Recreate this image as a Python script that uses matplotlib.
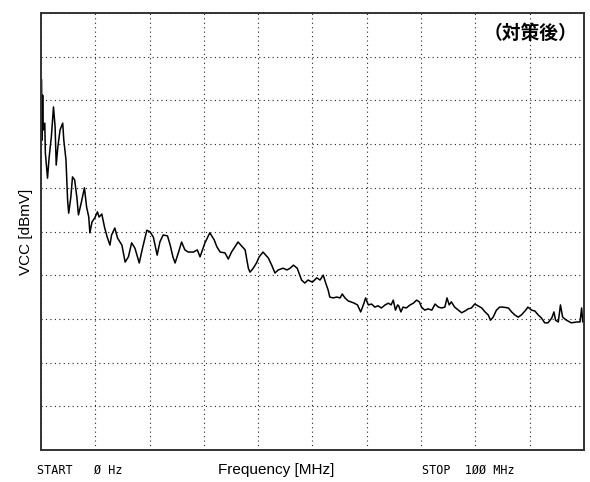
import matplotlib
matplotlib.use("Agg")
import matplotlib.pyplot as plt

# spectrum trace (10 dB/div, 0-100 MHz span)
freq_mhz = [0.1, 0.2, 0.3, 0.4, 0.7, 0.8, 1.2, 1.5, 1.9, 2.3, 2.6, 2.8, 3.1, 3.5, 4.0,
            4.2, 4.6, 4.9, 5.1, 5.5, 5.8, 6.2, 6.6, 6.9, 7.4, 8.0, 8.4, 8.8, 9.0, 9.4,
            9.9, 10.4, 10.7, 11.2, 11.7, 12.2, 12.7, 13.0, 13.6, 14.1, 14.9, 15.5, 16.1, 16.7, 17.3,
            18.1, 18.7, 19.5, 20.1, 20.7, 21.4, 21.9, 22.5, 23.3, 23.8, 24.3, 24.7, 25.3, 25.9, 26.5,
            27.1, 28.1, 28.8, 29.3, 30.2, 31.1, 31.9, 32.4, 33.0, 33.9, 34.5, 35.1, 36.3, 37.6, 38.2,
            38.5, 39.1, 39.7, 40.2, 40.9, 41.9, 42.5, 43.1, 43.7, 44.6, 45.3, 45.9, 46.5, 47.2, 48.0,
            48.6, 49.2, 50.0, 50.8, 51.4, 52.0,
            52.4, 52.9, 53.2, 53.8, 54.5, 55.1, 55.5, 56.0, 56.6, 57.1, 57.7, 58.3, 58.9, 59.5, 59.8,
            60.3, 60.9, 61.5, 62.1, 62.7, 63.4, 64.0, 64.5, 64.9, 65.3, 65.7, 65.9, 66.3, 66.7, 67.3,
            68.0, 68.6, 69.2, 69.7, 70.1, 70.7, 71.3, 72.0, 72.6, 73.2, 73.8, 74.4, 74.8, 75.2, 75.6,
            76.2, 76.9, 77.5, 78.1, 78.7, 79.3, 79.9, 80.5, 81.2, 81.8, 82.4, 82.8, 83.3, 83.9, 84.5,
            85.1, 86.1, 86.7, 87.3, 87.9, 88.5, 89.3, 89.7, 90.4, 91.0, 91.6, 92.2, 92.8, 93.4, 94.1,
            94.5, 94.8, 95.3, 95.7, 96.1, 96.8, 97.7, 98.7, 99.3, 99.6, 99.8, 99.9]
level_dbmv = [84.7, 70.9, 81.2, 73.2, 74.8, 68.0, 62.2, 67.0, 71.6, 78.5, 73.9, 65.2, 69.3, 73.2, 74.8,
              70.9, 66.4, 57.2, 54.2, 57.9, 62.5, 61.8, 57.9, 53.8, 56.5, 60.0, 55.6, 53.3, 49.7, 52.2,
              53.1, 54.5, 53.3, 54.0, 51.0, 48.7, 46.9, 49.2, 50.8, 48.5, 46.9, 43.0, 44.2, 47.4, 46.2,
              42.8, 46.2, 50.3, 49.9, 48.7, 44.6, 47.6, 49.2, 49.0, 46.9, 44.2, 42.8, 45.1, 47.6, 45.8,
              45.3, 45.3, 45.8, 44.2, 47.4, 49.7, 48.1, 46.5, 45.3, 45.1, 43.7, 45.3, 47.6, 45.8, 41.6,
              40.7, 41.6, 42.8, 44.2, 45.3, 43.9, 42.3, 40.5, 41.2, 41.6, 41.2, 41.6, 42.3, 41.6, 38.9,
              38.2, 38.9, 38.4, 39.4, 38.9, 40.0,
              38.4, 36.6, 35.0, 34.8, 35.0, 34.8, 35.7, 34.8, 34.1, 33.9, 33.6, 33.2, 31.6, 33.6, 34.8,
              33.2, 33.4, 32.7, 33.0, 32.5, 33.2, 33.6, 33.2, 34.3, 32.0, 33.2, 33.0, 31.6, 32.7, 32.5,
              33.2, 33.6, 34.3, 33.9, 32.7, 32.0, 32.3, 32.0, 33.4, 32.7, 32.5, 32.7, 34.8, 33.2, 33.9,
              32.7, 32.0, 31.4, 31.8, 32.3, 32.5, 33.4, 33.0, 32.5, 31.6, 30.9, 29.7, 30.4, 32.0, 32.7,
              32.7, 32.5, 31.6, 30.9, 30.4, 30.9, 32.0, 32.7, 32.0, 31.8, 30.9, 30.2, 29.1, 29.1, 30.2,
              31.6, 29.7, 29.3, 33.2, 30.4, 29.7, 29.1, 29.3, 29.3, 32.5, 29.3, 29.7]

fig = plt.figure(figsize=(5.9, 4.82), dpi=100)
ax = fig.add_axes([0.0695, 0.0664, 0.920, 0.9066])

ax.plot(freq_mhz, level_dbmv, color="black", lw=1.1)   # the trace

ax.set_xlim(0, 100)
ax.set_ylim(0, 100)
ax.set_xticks(range(0, 101, 10))
ax.set_yticks(range(0, 101, 10))
ax.tick_params(length=0, labelbottom=False, labelleft=False)
ax.grid(True, color="#222222", linestyle=(0, (1, 3)), lw=0.8)
for s in ax.spines.values():
    s.set_linewidth(1.4)
    s.set_color("#333333")

ax.set_ylabel("VCC [dBmV]", fontsize=11, family="Liberation Sans", labelpad=6)
fig.text(0.468, 0.025, "Frequency [MHz]", fontsize=11, family="Liberation Sans",
         ha="center", va="center")
fig.text(0.063, 0.025, "START   \u00d8 Hz", fontsize=8.5, family="DejaVu Sans Mono",
         ha="left", va="center")
fig.text(0.873, 0.025, "STOP  1\u00d8\u00d8 MHz", fontsize=8.5, family="DejaVu Sans Mono",
         ha="right", va="center")
ax.text(0.988, 0.953, "（対策後）", transform=ax.transAxes, fontsize=13.5, fontweight="bold",
        family=["Noto Sans CJK JP", "DejaVu Sans"], ha="right", va="center")

fig.savefig("out.png", dpi=100)
